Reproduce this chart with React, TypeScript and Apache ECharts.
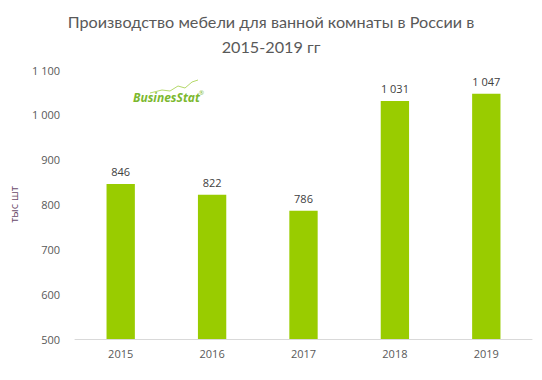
import React, { useEffect, useRef } from "react";
import * as echarts from "echarts";

const categories = ["2015", "2016", "2017", "2018", "2019"];
const values = [846, 822, 786, 1031, 1047];
const yTicks = [500, 600, 700, 800, 900, 1000, 1100];
const titleText = "Производство мебели для ванной комнаты в России в\n2015-2019 гг";
const yAxisName = "тыс шт";

const fmt = (v: number) => String(v).replace(/\B(?=(\d{3})+(?!\d))/g, " ");

export default function App() {
  const ref = useRef<HTMLDivElement>(null);
  useEffect(() => {
    const chart = echarts.init(ref.current!, null, { renderer: "svg" });
    chart.setOption({
      animation: false,
      backgroundColor: "#ffffff",
      textStyle: { fontFamily: "Open Sans" },
      title: {
        text: titleText,
        left: "center",
        top: 4,
        textStyle: {
          fontFamily: "Lato",
          fontSize: 16.2,
          fontWeight: "normal",
          color: "#595959",
          lineHeight: 25,
        },
      },
      grid: { left: 72, right: 10, top: 70, bottom: 41, containLabel: false },
      xAxis: {
        type: "category",
        data: categories,
        axisLine: { lineStyle: { color: "#d9d9d9", width: 1 } },
        axisTick: { show: false },
        axisLabel: { color: "#595959", fontSize: 11, margin: 9 },
      },
      yAxis: {
        type: "value",
        min: yTicks[0],
        max: yTicks[yTicks.length - 1],
        interval: 100,
        name: yAxisName,
        nameLocation: "middle",
        nameGap: 56,
        nameTextStyle: { color: "#6b4a6b", fontSize: 11 },
        splitLine: { show: false },
        axisLine: { show: false },
        axisTick: { show: false },
        axisLabel: { color: "#595959", fontSize: 11, margin: 15, formatter: (v: number) => fmt(v) },
      },
      series: [
        {
          type: "bar",
          data: values,
          barWidth: "31%",
          itemStyle: { color: "#99cc00" },
          label: {
            show: true,
            position: "top",
            distance: 7,
            color: "#404040",
            fontSize: 11,
            formatter: (p: any) => fmt(p.value),
          },
        },
      ],
      graphic: [
        {
          type: "polyline",
          shape: {
            points: [
              [150, 93], [162, 90], [170, 91], [178, 86], [185, 88], [192, 82], [198, 80],
            ],
          },
          style: { stroke: "#b5d96a", lineWidth: 1, fill: null },
        },
        {
          type: "text",
          x: 133,
          y: 91,
          style: {
            text: "BusinesStat",
            fill: "#7cb82f",
            font: "italic bold 12px 'Open Sans'",
          },
        },
        {
          type: "text",
          x: 199,
          y: 90,
          style: { text: "®", fill: "#7cb82f", font: "6px 'Open Sans'" },
        },
      ],
    });
    return () => chart.dispose();
  }, []);
  return <div ref={ref} style={{ width: 542, height: 380, margin: -8 }} />;
}
